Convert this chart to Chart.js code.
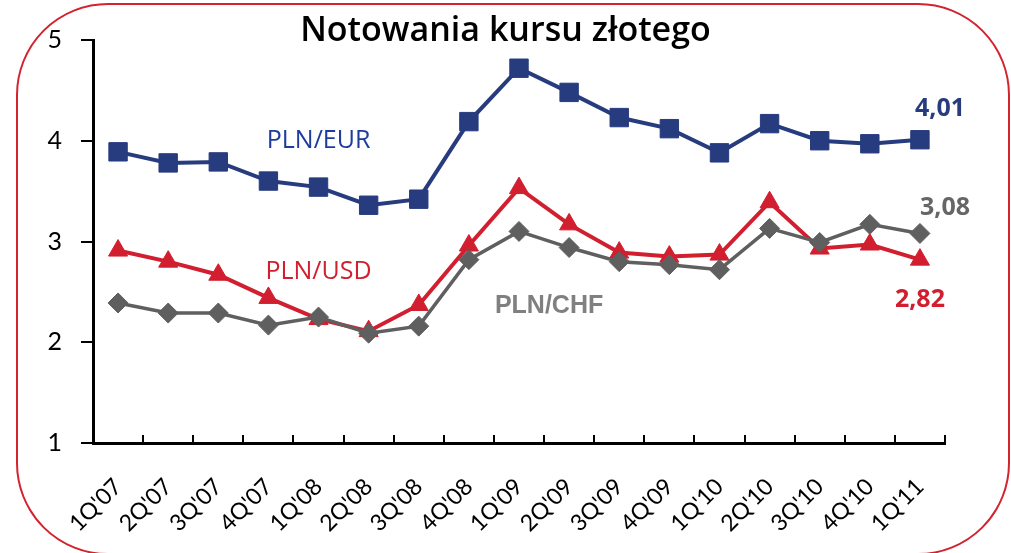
<!DOCTYPE html>
<html lang="pl">
<head>
<meta charset="utf-8">
<title>Notowania kursu złotego</title>
<script src="https://cdn.jsdelivr.net/npm/chart.js@4.4.1/dist/chart.umd.min.js"></script>
<style>
  html, body { margin: 0; padding: 0; background: #fff; }
  #wrap { position: relative; width: 1011px; height: 553px; overflow: hidden; }
  #frame { position: absolute; left: 16px; top: 3px; width: 994px; height: 552px; border: 2px solid #d2232f; border-radius: 92px; box-sizing: border-box; }
  #chart { position: absolute; left: 0; top: 0; }
</style>
</head>
<body>
<div id="wrap">
  <div id="frame"></div>
  <canvas id="chart" width="1011" height="553"></canvas>
</div>
<script>
'use strict';

//data
let quarters = ["1Q'07", "2Q'07", "3Q'07", "4Q'07", "1Q'08", "2Q'08", "3Q'08", "4Q'08", "1Q'09", "2Q'09", "3Q'09", "4Q'09", "1Q'10", "2Q'10", "3Q'10", "4Q'10", "1Q'11"];
let plnEur = [3.89, 3.78, 3.79, 3.60, 3.54, 3.36, 3.42, 4.19, 4.72, 4.48, 4.23, 4.12, 3.88, 4.17, 4.00, 3.97, 4.01];
let plnUsd = [2.91, 2.80, 2.67, 2.44, 2.23, 2.11, 2.37, 2.96, 3.53, 3.17, 2.89, 2.85, 2.87, 3.39, 2.93, 2.97, 2.82];
let plnChf = [2.39, 2.29, 2.29, 2.17, 2.25, 2.09, 2.16, 2.82, 3.10, 2.94, 2.80, 2.77, 2.72, 3.13, 2.99, 3.17, 3.08];
let yTicks = [1, 2, 3, 4, 5];

//colors
let eurColor = '#273b7f';
let usdColor = '#d11f2f';
let chfColor = '#5f5f5f';

//text written on the plot, placed by category index and value
let notes = [
  { text: 'PLN/EUR', at: 4, value: 4.0, color: '#1e3c9e', font: '400 25px "Open Sans"' },
  { text: 'PLN/USD', at: 4, value: 2.70, color: usdColor, font: '400 25px "Open Sans"' },
  { text: 'PLN/CHF', at: 8.6, value: 2.36, color: '#808080', font: 'bold 25px "Liberation Sans"' },
  { text: '4,01', at: 16.4, value: 4.32, color: eurColor, font: 'bold 25px "Open Sans"' },
  { text: '3,08', at: 16.5, value: 3.33, color: '#666666', font: 'bold 25px "Open Sans"' },
  { text: '2,82', at: 16.0, value: 2.42, color: usdColor, font: 'bold 25px "Open Sans"' }
];

//title, inward x ticks and notes
const extras = {
  id: 'extras',
  afterDraw(chart) {
    let ctx = chart.ctx;
    let xScale = chart.scales.x;
    let yScale = chart.scales.y;
    let step = xScale.width / quarters.length;

    ctx.save();
    ctx.strokeStyle = '#000';
    ctx.lineWidth = 2;
    ctx.beginPath();
    for (let i = 0; i <= quarters.length; i++) {
      let px = Math.round(xScale.left + i * step);
      ctx.moveTo(px, xScale.top);
      ctx.lineTo(px, xScale.top - 8);
    }
    ctx.stroke();

    ctx.textAlign = 'center';
    ctx.textBaseline = 'middle';
    for (let i = 0; i < notes.length; i++) {
      ctx.font = notes[i].font;
      ctx.fillStyle = notes[i].color;
      ctx.fillText(notes[i].text, xScale.getPixelForValue(notes[i].at), yScale.getPixelForValue(notes[i].value));
    }

    ctx.font = '600 34px "Open Sans"';
    ctx.fillStyle = '#000';
    ctx.fillText('Notowania kursu złotego', chart.width / 2, 31);
    ctx.restore();
  }
};

const ctx = document.getElementById('chart');
new Chart(ctx, {
  type: 'line',
  data: {
    labels: quarters,
    datasets: [{
      label: 'PLN/EUR',
      data: plnEur,
      borderColor: eurColor,
      backgroundColor: eurColor,
      borderWidth: 4,
      pointStyle: 'rect',
      pointRadius: 13,
      pointBorderWidth: 1,
      order: 2
    },
    {
      label: 'PLN/USD',
      data: plnUsd,
      borderColor: usdColor,
      backgroundColor: usdColor,
      borderWidth: 4,
      pointStyle: 'triangle',
      pointRadius: 11,
      pointBorderWidth: 1,
      order: 1
    },
    {
      label: 'PLN/CHF',
      data: plnChf,
      borderColor: chfColor,
      backgroundColor: chfColor,
      borderWidth: 3.5,
      pointStyle: 'rectRot',
      pointRadius: 10,
      pointBorderWidth: 1,
      order: 0
    }]
  },
  options: {
    responsive: false,
    animation: false,
    layout: {
      padding: { left: 43, right: 66, top: 40, bottom: 0 }
    },
    plugins: {
      legend: { display: false },
      title: { display: false },
      tooltip: { enabled: false }
    },
    scales: {
      x: {
        offset: true,
        grid: { drawOnChartArea: false, drawTicks: false },
        border: { color: '#000', width: 3 },
        ticks: {
          color: '#000',
          font: { family: 'Lato', size: 23 },
          minRotation: 45,
          maxRotation: 45,
          padding: 30
        },
        afterFit(scale) { scale.height = 110; }
      },
      y: {
        min: 1,
        max: 5,
        afterBuildTicks(scale) { scale.ticks = yTicks.map(v => ({ value: v })); },
        grid: { drawOnChartArea: false, tickLength: 12, color: '#000', lineWidth: 2 },
        border: { color: '#000', width: 3 },
        ticks: {
          color: '#000',
          font: { family: 'Lato', size: 25 },
          padding: 19
        },
        afterFit(scale) { scale.width = 50; }
      }
    }
  },
  plugins: [extras]
});
</script>
</body>
</html>
